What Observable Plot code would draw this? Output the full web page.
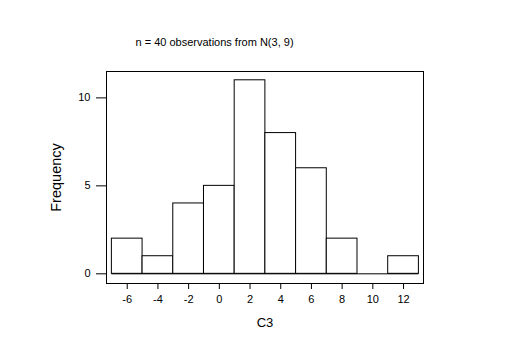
<!DOCTYPE html>
<html>
<head>
<meta charset="utf-8">
<script src="https://cdn.jsdelivr.net/npm/d3@7"></script>
<script src="https://cdn.jsdelivr.net/npm/@observablehq/plot@0.6"></script>
<style>
  html, body { margin: 0; padding: 0; background: white; }
</style>
</head>
<body>
<div id="chart"></div>
<script>
const binStarts = [-7, -5, -3, -1, 1, 3, 5, 7, 9, 11];
const binWidth = 2;
const counts = [2, 1, 4, 5, 11, 8, 6, 2, 0, 1];
const xTicks = [-6, -4, -2, 0, 2, 4, 6, 8, 10, 12];
const yTicks = [0, 5, 10];
const titleText = "n = 40 observations from N(3, 9)";
const xLabel = "C3";
const yLabel = "Frequency";

const bins = binStarts.map((s, i) => ({x1: s, x2: s + binWidth, count: counts[i]}));

const chart = Plot.plot({
  width: 530,
  height: 354,
  marginLeft: 106,
  marginRight: 107,
  marginTop: 71,
  marginBottom: 71,
  style: {fontFamily: "'Liberation Sans', Arial, sans-serif", fontSize: "11px", color: "black", background: "white"},
  x: {domain: [-7.35, 13.3]},
  y: {domain: [-0.55, 11.5]},
  marks: [
    Plot.frame({stroke: "black"}),
    Plot.rect(bins, {x1: "x1", x2: "x2", y1: 0, y2: "count", fill: "white", stroke: "black"}),
    Plot.ruleY([0], {x1: binStarts[0], x2: binStarts[binStarts.length - 1] + binWidth, stroke: "black"}),
    Plot.axisX({ticks: xTicks, tickSize: 6, tickPadding: 6, tickFormat: d => String(d), label: null, fontSize: 11}),
    Plot.axisY({ticks: yTicks, tickSize: 10, tickPadding: 6, tickFormat: d => String(d), label: null, fontSize: 11}),
    Plot.text([xLabel], {frameAnchor: "bottom", textAnchor: "middle", lineAnchor: "middle", dy: 39, fontSize: 13}),
    Plot.text([yLabel], {frameAnchor: "left", textAnchor: "middle", lineAnchor: "middle", rotate: -90, dx: -50, fontSize: 14.5}),
    Plot.text([titleText], {frameAnchor: "top-left", textAnchor: "start", lineAnchor: "middle", dx: 29, dy: -29, fontSize: 11})
  ]
});
document.getElementById("chart").appendChild(chart);
</script>
</body>
</html>
